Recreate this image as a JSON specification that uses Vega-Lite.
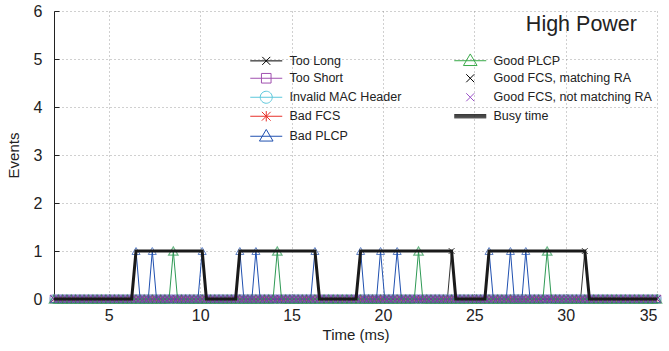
{
"$schema":"https://vega.github.io/schema/vega-lite/v6.json",
"width":603,"height":288,
"autosize":{"type":"none"},
"padding":{"left":54,"top":11,"right":12,"bottom":52},
"title":{"text":"High Power","anchor":"end","frame":"group","orient":"top","offset":-49,"dx":-20,"baseline":"alphabetic","fontSize":21.5,"font":"Liberation Sans","fontWeight":"normal","color":"#222"},
"data":{"values":[
{"t":2,"TL":0,"TS":0,"IM":0,"BF":0,"BP":0,"GP":0,"GM":0,"GN":0,"BT":0},
{"t":2.24,"TL":0,"TS":0,"IM":0,"BF":0,"BP":0,"GP":0,"GM":0,"GN":0,"BT":0},
{"t":2.47,"TL":0,"TS":0,"IM":0,"BF":0,"BP":0,"GP":0,"GM":0,"GN":0,"BT":0},
{"t":2.71,"TL":0,"TS":0,"IM":0,"BF":0,"BP":0,"GP":0,"GM":0,"GN":0,"BT":0},
{"t":2.95,"TL":0,"TS":0,"IM":0,"BF":0,"BP":0,"GP":0,"GM":0,"GN":0,"BT":0},
{"t":3.18,"TL":0,"TS":0,"IM":0,"BF":0,"BP":0,"GP":0,"GM":0,"GN":0,"BT":0},
{"t":3.42,"TL":0,"TS":0,"IM":0,"BF":0,"BP":0,"GP":0,"GM":0,"GN":0,"BT":0},
{"t":3.65,"TL":0,"TS":0,"IM":0,"BF":0,"BP":0,"GP":0,"GM":0,"GN":0,"BT":0},
{"t":3.89,"TL":0,"TS":0,"IM":0,"BF":0,"BP":0,"GP":0,"GM":0,"GN":0,"BT":0},
{"t":4.13,"TL":0,"TS":0,"IM":0,"BF":0,"BP":0,"GP":0,"GM":0,"GN":0,"BT":0},
{"t":4.36,"TL":0,"TS":0,"IM":0,"BF":0,"BP":0,"GP":0,"GM":0,"GN":0,"BT":0},
{"t":4.6,"TL":0,"TS":0,"IM":0,"BF":0,"BP":0,"GP":0,"GM":0,"GN":0,"BT":0},
{"t":4.84,"TL":0,"TS":0,"IM":0,"BF":0,"BP":0,"GP":0,"GM":0,"GN":0,"BT":0},
{"t":5.07,"TL":0,"TS":0,"IM":0,"BF":0,"BP":0,"GP":0,"GM":0,"GN":0,"BT":0},
{"t":5.31,"TL":0,"TS":0,"IM":0,"BF":0,"BP":0,"GP":0,"GM":0,"GN":0,"BT":0},
{"t":5.54,"TL":0,"TS":0,"IM":0,"BF":0,"BP":0,"GP":0,"GM":0,"GN":0,"BT":0},
{"t":5.78,"TL":0,"TS":0,"IM":0,"BF":0,"BP":0,"GP":0,"GM":0,"GN":0,"BT":0},
{"t":6.02,"TL":0,"TS":0,"IM":0,"BF":0,"BP":0,"GP":0,"GM":0,"GN":0,"BT":0},
{"t":6.25,"TL":0,"TS":0,"IM":0,"BF":0,"BP":0,"GP":0,"GM":0,"GN":0,"BT":0},
{"t":6.49,"TL":0,"TS":0,"IM":0,"BF":0,"BP":1,"GP":0,"GM":0,"GN":0,"BT":1},
{"t":6.71,"TL":0,"TS":0,"IM":0,"BF":0,"BP":0,"GP":0,"GM":0,"GN":0,"BT":1},
{"t":6.94,"TL":0,"TS":0,"IM":0,"BF":0,"BP":0,"GP":0,"GM":0,"GN":0,"BT":1},
{"t":7.16,"TL":0,"TS":0,"IM":0,"BF":0,"BP":0,"GP":0,"GM":0,"GN":0,"BT":1},
{"t":7.38,"TL":0,"TS":0,"IM":0,"BF":0,"BP":1,"GP":0,"GM":0,"GN":0,"BT":1},
{"t":7.61,"TL":0,"TS":0,"IM":0,"BF":0,"BP":0,"GP":0,"GM":0,"GN":0,"BT":1},
{"t":7.84,"TL":0,"TS":0,"IM":0,"BF":0,"BP":0,"GP":0,"GM":0,"GN":0,"BT":1},
{"t":8.07,"TL":0,"TS":0,"IM":0,"BF":0,"BP":0,"GP":0,"GM":0,"GN":0,"BT":1},
{"t":8.3,"TL":0,"TS":0,"IM":0,"BF":0,"BP":0,"GP":0,"GM":0,"GN":0,"BT":1},
{"t":8.53,"TL":0,"TS":0,"IM":0,"BF":0,"BP":0,"GP":1,"GM":0,"GN":0,"BT":1},
{"t":8.76,"TL":0,"TS":0,"IM":0,"BF":0,"BP":0,"GP":0,"GM":0,"GN":0,"BT":1},
{"t":8.98,"TL":0,"TS":0,"IM":0,"BF":0,"BP":0,"GP":0,"GM":0,"GN":0,"BT":1},
{"t":9.21,"TL":0,"TS":0,"IM":0,"BF":0,"BP":0,"GP":0,"GM":0,"GN":0,"BT":1},
{"t":9.43,"TL":0,"TS":0,"IM":0,"BF":0,"BP":0,"GP":0,"GM":0,"GN":0,"BT":1},
{"t":9.66,"TL":0,"TS":0,"IM":0,"BF":0,"BP":0,"GP":0,"GM":0,"GN":0,"BT":1},
{"t":9.88,"TL":0,"TS":0,"IM":0,"BF":0,"BP":0,"GP":0,"GM":0,"GN":0,"BT":1},
{"t":10.11,"TL":0,"TS":0,"IM":0,"BF":0,"BP":1,"GP":0,"GM":0,"GN":0,"BT":1},
{"t":10.34,"TL":0,"TS":0,"IM":0,"BF":0,"BP":0,"GP":0,"GM":0,"GN":0,"BT":0},
{"t":10.57,"TL":0,"TS":0,"IM":0,"BF":0,"BP":0,"GP":0,"GM":0,"GN":0,"BT":0},
{"t":10.8,"TL":0,"TS":0,"IM":0,"BF":0,"BP":0,"GP":0,"GM":0,"GN":0,"BT":0},
{"t":11.03,"TL":0,"TS":0,"IM":0,"BF":0,"BP":0,"GP":0,"GM":0,"GN":0,"BT":0},
{"t":11.25,"TL":0,"TS":0,"IM":0,"BF":0,"BP":0,"GP":0,"GM":0,"GN":0,"BT":0},
{"t":11.48,"TL":0,"TS":0,"IM":0,"BF":0,"BP":0,"GP":0,"GM":0,"GN":0,"BT":0},
{"t":11.71,"TL":0,"TS":0,"IM":0,"BF":0,"BP":0,"GP":0,"GM":0,"GN":0,"BT":0},
{"t":11.94,"TL":0,"TS":0,"IM":0,"BF":0,"BP":0,"GP":0,"GM":0,"GN":0,"BT":0},
{"t":12.17,"TL":0,"TS":0,"IM":0,"BF":0,"BP":1,"GP":0,"GM":0,"GN":0,"BT":1},
{"t":12.39,"TL":0,"TS":0,"IM":0,"BF":0,"BP":0,"GP":0,"GM":0,"GN":0,"BT":1},
{"t":12.61,"TL":0,"TS":0,"IM":0,"BF":0,"BP":0,"GP":0,"GM":0,"GN":0,"BT":1},
{"t":12.83,"TL":0,"TS":0,"IM":0,"BF":0,"BP":0,"GP":0,"GM":0,"GN":0,"BT":1},
{"t":13.05,"TL":0,"TS":0,"IM":0,"BF":0,"BP":1,"GP":0,"GM":0,"GN":0,"BT":1},
{"t":13.28,"TL":0,"TS":0,"IM":0,"BF":0,"BP":0,"GP":0,"GM":0,"GN":0,"BT":1},
{"t":13.52,"TL":0,"TS":0,"IM":0,"BF":0,"BP":0,"GP":0,"GM":0,"GN":0,"BT":1},
{"t":13.75,"TL":0,"TS":0,"IM":0,"BF":0,"BP":0,"GP":0,"GM":0,"GN":0,"BT":1},
{"t":13.99,"TL":0,"TS":0,"IM":0,"BF":0,"BP":0,"GP":0,"GM":0,"GN":0,"BT":1},
{"t":14.22,"TL":0,"TS":0,"IM":0,"BF":0,"BP":0,"GP":1,"GM":0,"GN":0,"BT":1},
{"t":14.45,"TL":0,"TS":0,"IM":0,"BF":0,"BP":0,"GP":0,"GM":0,"GN":0,"BT":1},
{"t":14.68,"TL":0,"TS":0,"IM":0,"BF":0,"BP":0,"GP":0,"GM":0,"GN":0,"BT":1},
{"t":14.91,"TL":0,"TS":0,"IM":0,"BF":0,"BP":0,"GP":0,"GM":0,"GN":0,"BT":1},
{"t":15.14,"TL":0,"TS":0,"IM":0,"BF":0,"BP":0,"GP":0,"GM":0,"GN":0,"BT":1},
{"t":15.36,"TL":0,"TS":0,"IM":0,"BF":0,"BP":0,"GP":0,"GM":0,"GN":0,"BT":1},
{"t":15.59,"TL":0,"TS":0,"IM":0,"BF":0,"BP":0,"GP":0,"GM":0,"GN":0,"BT":1},
{"t":15.82,"TL":0,"TS":0,"IM":0,"BF":0,"BP":0,"GP":0,"GM":0,"GN":0,"BT":1},
{"t":16.05,"TL":0,"TS":0,"IM":0,"BF":0,"BP":0,"GP":0,"GM":0,"GN":0,"BT":1},
{"t":16.28,"TL":0,"TS":0,"IM":0,"BF":0,"BP":1,"GP":0,"GM":0,"GN":0,"BT":1},
{"t":16.53,"TL":0,"TS":0,"IM":0,"BF":0,"BP":0,"GP":0,"GM":0,"GN":0,"BT":0},
{"t":16.78,"TL":0,"TS":0,"IM":0,"BF":0,"BP":0,"GP":0,"GM":0,"GN":0,"BT":0},
{"t":17.03,"TL":0,"TS":0,"IM":0,"BF":0,"BP":0,"GP":0,"GM":0,"GN":0,"BT":0},
{"t":17.28,"TL":0,"TS":0,"IM":0,"BF":0,"BP":0,"GP":0,"GM":0,"GN":0,"BT":0},
{"t":17.53,"TL":0,"TS":0,"IM":0,"BF":0,"BP":0,"GP":0,"GM":0,"GN":0,"BT":0},
{"t":17.78,"TL":0,"TS":0,"IM":0,"BF":0,"BP":0,"GP":0,"GM":0,"GN":0,"BT":0},
{"t":18.03,"TL":0,"TS":0,"IM":0,"BF":0,"BP":0,"GP":0,"GM":0,"GN":0,"BT":0},
{"t":18.28,"TL":0,"TS":0,"IM":0,"BF":0,"BP":0,"GP":0,"GM":0,"GN":0,"BT":0},
{"t":18.53,"TL":0,"TS":0,"IM":0,"BF":0,"BP":0,"GP":0,"GM":0,"GN":0,"BT":0},
{"t":18.78,"TL":0,"TS":0,"IM":0,"BF":0,"BP":1,"GP":0,"GM":0,"GN":0,"BT":1},
{"t":19,"TL":0,"TS":0,"IM":0,"BF":0,"BP":0,"GP":0,"GM":0,"GN":0,"BT":1},
{"t":19.22,"TL":0,"TS":0,"IM":0,"BF":0,"BP":0,"GP":0,"GM":0,"GN":0,"BT":1},
{"t":19.43,"TL":0,"TS":0,"IM":0,"BF":0,"BP":0,"GP":0,"GM":0,"GN":0,"BT":1},
{"t":19.65,"TL":0,"TS":0,"IM":0,"BF":0,"BP":0,"GP":0,"GM":0,"GN":0,"BT":1},
{"t":19.87,"TL":0,"TS":0,"IM":0,"BF":0,"BP":1,"GP":0,"GM":0,"GN":0,"BT":1},
{"t":20.1,"TL":0,"TS":0,"IM":0,"BF":0,"BP":0,"GP":0,"GM":0,"GN":0,"BT":1},
{"t":20.33,"TL":0,"TS":0,"IM":0,"BF":0,"BP":0,"GP":0,"GM":0,"GN":0,"BT":1},
{"t":20.55,"TL":0,"TS":0,"IM":0,"BF":0,"BP":0,"GP":0,"GM":0,"GN":0,"BT":1},
{"t":20.78,"TL":0,"TS":0,"IM":0,"BF":0,"BP":1,"GP":0,"GM":0,"GN":0,"BT":1},
{"t":21.01,"TL":0,"TS":0,"IM":0,"BF":0,"BP":0,"GP":0,"GM":0,"GN":0,"BT":1},
{"t":21.25,"TL":0,"TS":0,"IM":0,"BF":0,"BP":0,"GP":0,"GM":0,"GN":0,"BT":1},
{"t":21.48,"TL":0,"TS":0,"IM":0,"BF":0,"BP":0,"GP":0,"GM":0,"GN":0,"BT":1},
{"t":21.72,"TL":0,"TS":0,"IM":0,"BF":0,"BP":0,"GP":0,"GM":0,"GN":0,"BT":1},
{"t":21.95,"TL":0,"TS":0,"IM":0,"BF":0,"BP":0,"GP":1,"GM":0,"GN":0,"BT":1},
{"t":22.18,"TL":0,"TS":0,"IM":0,"BF":0,"BP":0,"GP":0,"GM":0,"GN":0,"BT":1},
{"t":22.4,"TL":0,"TS":0,"IM":0,"BF":0,"BP":0,"GP":0,"GM":0,"GN":0,"BT":1},
{"t":22.63,"TL":0,"TS":0,"IM":0,"BF":0,"BP":0,"GP":0,"GM":0,"GN":0,"BT":1},
{"t":22.86,"TL":0,"TS":0,"IM":0,"BF":0,"BP":0,"GP":0,"GM":0,"GN":0,"BT":1},
{"t":23.08,"TL":0,"TS":0,"IM":0,"BF":0,"BP":0,"GP":0,"GM":0,"GN":0,"BT":1},
{"t":23.31,"TL":0,"TS":0,"IM":0,"BF":0,"BP":0,"GP":0,"GM":0,"GN":0,"BT":1},
{"t":23.53,"TL":0,"TS":0,"IM":0,"BF":0,"BP":0,"GP":0,"GM":0,"GN":0,"BT":1},
{"t":23.76,"TL":1,"TS":0,"IM":0,"BF":0,"BP":0,"GP":0,"GM":0,"GN":0,"BT":1},
{"t":23.99,"TL":0,"TS":0,"IM":0,"BF":0,"BP":0,"GP":0,"GM":0,"GN":0,"BT":0},
{"t":24.22,"TL":0,"TS":0,"IM":0,"BF":0,"BP":0,"GP":0,"GM":0,"GN":0,"BT":0},
{"t":24.44,"TL":0,"TS":0,"IM":0,"BF":0,"BP":0,"GP":0,"GM":0,"GN":0,"BT":0},
{"t":24.67,"TL":0,"TS":0,"IM":0,"BF":0,"BP":0,"GP":0,"GM":0,"GN":0,"BT":0},
{"t":24.9,"TL":0,"TS":0,"IM":0,"BF":0,"BP":0,"GP":0,"GM":0,"GN":0,"BT":0},
{"t":25.13,"TL":0,"TS":0,"IM":0,"BF":0,"BP":0,"GP":0,"GM":0,"GN":0,"BT":0},
{"t":25.35,"TL":0,"TS":0,"IM":0,"BF":0,"BP":0,"GP":0,"GM":0,"GN":0,"BT":0},
{"t":25.58,"TL":0,"TS":0,"IM":0,"BF":0,"BP":0,"GP":0,"GM":0,"GN":0,"BT":0},
{"t":25.81,"TL":0,"TS":0,"IM":0,"BF":0,"BP":1,"GP":0,"GM":0,"GN":0,"BT":1},
{"t":26.04,"TL":0,"TS":0,"IM":0,"BF":0,"BP":0,"GP":0,"GM":0,"GN":0,"BT":1},
{"t":26.28,"TL":0,"TS":0,"IM":0,"BF":0,"BP":0,"GP":0,"GM":0,"GN":0,"BT":1},
{"t":26.51,"TL":0,"TS":0,"IM":0,"BF":0,"BP":0,"GP":0,"GM":0,"GN":0,"BT":1},
{"t":26.75,"TL":0,"TS":0,"IM":0,"BF":0,"BP":0,"GP":0,"GM":0,"GN":0,"BT":1},
{"t":26.98,"TL":0,"TS":0,"IM":0,"BF":0,"BP":1,"GP":0,"GM":0,"GN":0,"BT":1},
{"t":27.19,"TL":0,"TS":0,"IM":0,"BF":0,"BP":0,"GP":0,"GM":0,"GN":0,"BT":1},
{"t":27.4,"TL":0,"TS":0,"IM":0,"BF":0,"BP":0,"GP":0,"GM":0,"GN":0,"BT":1},
{"t":27.61,"TL":0,"TS":0,"IM":0,"BF":0,"BP":0,"GP":0,"GM":0,"GN":0,"BT":1},
{"t":27.82,"TL":0,"TS":0,"IM":0,"BF":0,"BP":1,"GP":0,"GM":0,"GN":0,"BT":1},
{"t":28.05,"TL":0,"TS":0,"IM":0,"BF":0,"BP":0,"GP":0,"GM":0,"GN":0,"BT":1},
{"t":28.29,"TL":0,"TS":0,"IM":0,"BF":0,"BP":0,"GP":0,"GM":0,"GN":0,"BT":1},
{"t":28.52,"TL":0,"TS":0,"IM":0,"BF":0,"BP":0,"GP":0,"GM":0,"GN":0,"BT":1},
{"t":28.76,"TL":0,"TS":0,"IM":0,"BF":0,"BP":0,"GP":0,"GM":0,"GN":0,"BT":1},
{"t":28.99,"TL":0,"TS":0,"IM":0,"BF":0,"BP":0,"GP":1,"GM":0,"GN":0,"BT":1},
{"t":29.22,"TL":0,"TS":0,"IM":0,"BF":0,"BP":0,"GP":0,"GM":0,"GN":0,"BT":1},
{"t":29.45,"TL":0,"TS":0,"IM":0,"BF":0,"BP":0,"GP":0,"GM":0,"GN":0,"BT":1},
{"t":29.68,"TL":0,"TS":0,"IM":0,"BF":0,"BP":0,"GP":0,"GM":0,"GN":0,"BT":1},
{"t":29.91,"TL":0,"TS":0,"IM":0,"BF":0,"BP":0,"GP":0,"GM":0,"GN":0,"BT":1},
{"t":30.13,"TL":0,"TS":0,"IM":0,"BF":0,"BP":0,"GP":0,"GM":0,"GN":0,"BT":1},
{"t":30.36,"TL":0,"TS":0,"IM":0,"BF":0,"BP":0,"GP":0,"GM":0,"GN":0,"BT":1},
{"t":30.59,"TL":0,"TS":0,"IM":0,"BF":0,"BP":0,"GP":0,"GM":0,"GN":0,"BT":1},
{"t":30.82,"TL":0,"TS":0,"IM":0,"BF":0,"BP":0,"GP":0,"GM":0,"GN":0,"BT":1},
{"t":31.05,"TL":1,"TS":0,"IM":0,"BF":0,"BP":0,"GP":0,"GM":0,"GN":0,"BT":1},
{"t":31.3,"TL":0,"TS":0,"IM":0,"BF":0,"BP":0,"GP":0,"GM":0,"GN":0,"BT":0},
{"t":31.54,"TL":0,"TS":0,"IM":0,"BF":0,"BP":0,"GP":0,"GM":0,"GN":0,"BT":0},
{"t":31.79,"TL":0,"TS":0,"IM":0,"BF":0,"BP":0,"GP":0,"GM":0,"GN":0,"BT":0},
{"t":32.04,"TL":0,"TS":0,"IM":0,"BF":0,"BP":0,"GP":0,"GM":0,"GN":0,"BT":0},
{"t":32.28,"TL":0,"TS":0,"IM":0,"BF":0,"BP":0,"GP":0,"GM":0,"GN":0,"BT":0},
{"t":32.53,"TL":0,"TS":0,"IM":0,"BF":0,"BP":0,"GP":0,"GM":0,"GN":0,"BT":0},
{"t":32.78,"TL":0,"TS":0,"IM":0,"BF":0,"BP":0,"GP":0,"GM":0,"GN":0,"BT":0},
{"t":33.03,"TL":0,"TS":0,"IM":0,"BF":0,"BP":0,"GP":0,"GM":0,"GN":0,"BT":0},
{"t":33.27,"TL":0,"TS":0,"IM":0,"BF":0,"BP":0,"GP":0,"GM":0,"GN":0,"BT":0},
{"t":33.52,"TL":0,"TS":0,"IM":0,"BF":0,"BP":0,"GP":0,"GM":0,"GN":0,"BT":0},
{"t":33.77,"TL":0,"TS":0,"IM":0,"BF":0,"BP":0,"GP":0,"GM":0,"GN":0,"BT":0},
{"t":34.01,"TL":0,"TS":0,"IM":0,"BF":0,"BP":0,"GP":0,"GM":0,"GN":0,"BT":0},
{"t":34.26,"TL":0,"TS":0,"IM":0,"BF":0,"BP":0,"GP":0,"GM":0,"GN":0,"BT":0},
{"t":34.51,"TL":0,"TS":0,"IM":0,"BF":0,"BP":0,"GP":0,"GM":0,"GN":0,"BT":0},
{"t":34.75,"TL":0,"TS":0,"IM":0,"BF":0,"BP":0,"GP":0,"GM":0,"GN":0,"BT":0},
{"t":35,"TL":0,"TS":0,"IM":0,"BF":0,"BP":0,"GP":0,"GM":0,"GN":0,"BT":0}
]},
"encoding":{"x":{"field":"t","type":"quantitative","title":"Time (ms)","scale":{"domain":[2,35],"nice":false,"zero":false},"axis":{"values":[5,10,15,20,25,30,35]}}},
"layer":[
{"mark":{"type":"line","color":"#000000","strokeWidth":0.8},"encoding":{"y":{"field":"TL","type":"quantitative","scale":{"domain":[0,6]},"title":"Events"}}},
{"mark":{"type":"point","shape":"M-1,-1L1,1M-1,1L1,-1","size":36,"color":"#000000"},"encoding":{"y":{"field":"TL","type":"quantitative","scale":{"domain":[0,6]},"title":"Events"}}},
{"mark":{"type":"line","color":"#a050b0"},"encoding":{"y":{"field":"TS","type":"quantitative","scale":{"domain":[0,6]},"title":"Events"}}},
{"mark":{"type":"point","shape":"square","size":60,"color":"#a050b0"},"encoding":{"y":{"field":"TS","type":"quantitative","scale":{"domain":[0,6]},"title":"Events"}}},
{"mark":{"type":"line","color":"#5cc8dc"},"encoding":{"y":{"field":"IM","type":"quantitative","scale":{"domain":[0,6]},"title":"Events"}}},
{"mark":{"type":"point","shape":"circle","size":65,"color":"#5cc8dc"},"encoding":{"y":{"field":"IM","type":"quantitative","scale":{"domain":[0,6]},"title":"Events"}}},
{"mark":{"type":"line","color":"#e8302a"},"encoding":{"y":{"field":"BF","type":"quantitative","scale":{"domain":[0,6]},"title":"Events"}}},
{"mark":{"type":"point","shape":"M0,-1V1M-0.9,-0.9L0.9,0.9M-0.9,0.9L0.9,-0.9","size":55,"color":"#e8302a"},"encoding":{"y":{"field":"BF","type":"quantitative","scale":{"domain":[0,6]},"title":"Events"}}},
{"mark":{"type":"line","color":"#2050b0"},"encoding":{"y":{"field":"BP","type":"quantitative","scale":{"domain":[0,6]},"title":"Events"}}},
{"mark":{"type":"point","shape":"triangle-up","size":65,"color":"#2050b0"},"encoding":{"y":{"field":"BP","type":"quantitative","scale":{"domain":[0,6]},"title":"Events"}}},
{"mark":{"type":"line","color":"#2f9a55"},"encoding":{"y":{"field":"GP","type":"quantitative","scale":{"domain":[0,6]},"title":"Events"}}},
{"mark":{"type":"point","shape":"triangle-up","size":90,"color":"#2f9a55","strokeWidth":1.2},"encoding":{"y":{"field":"GP","type":"quantitative","scale":{"domain":[0,6]},"title":"Events"}}},
{"mark":{"type":"point","shape":"M-1,-1L1,1M-1,1L1,-1","size":50,"color":"#000000"},"encoding":{"y":{"field":"GM","type":"quantitative","scale":{"domain":[0,6]},"title":"Events"}}},
{"mark":{"type":"point","shape":"M-1,-1L1,1M-1,1L1,-1","size":55,"color":"#9a50c8","strokeWidth":1.2},"encoding":{"y":{"field":"GN","type":"quantitative","scale":{"domain":[0,6]},"title":"Events"}}},
{"mark":{"type":"line","color":"#1a1a1a","strokeWidth":3},"encoding":{"y":{"field":"BT","type":"quantitative","scale":{"domain":[0,6]},"title":"Events"}}},
{"transform":[{"filter":"datum.t == 2"},{"fold":["TL","TS","IM","BF","BP","GP","GM","GN","BT"],"as":["key","v"]}],
 "mark":{"type":"point","opacity":0,"filled":false,"strokeWidth":1},
 "encoding":{
  "y":{"field":"v","type":"quantitative","scale":{"domain":[0,6]},"title":"Events"},
  "color":{"field":"key","type":"nominal",
    "scale":{"domain":["TL","TS","IM","BF","BP","GP","GM","GN","BT"],"range":["#000000","#a050b0","#5cc8dc","#e8302a","#2050b0","#3aaa4a","#000000","#9a50c8","#1a1a1a"]},
    "legend":{"orient":"none","legendX":206,"legendY":43,"columns":2,"columnPadding":50,"rowPadding":3,"symbolSize":64,"symbolStrokeWidth":1,"symbolOpacity":1,"labelOffset":17,"labelFontSize":12.5,"labelFont":"Liberation Sans","labelColor":"#222","title":null,"padding":0,
      "labelExpr":"datum.value=='TL'?'Too Long':datum.value=='TS'?'Too Short':datum.value=='IM'?'Invalid MAC Header':datum.value=='BF'?'Bad FCS':datum.value=='BP'?'Bad PLCP':datum.value=='GP'?'Good PLCP':datum.value=='GM'?'Good FCS, matching RA':datum.value=='GN'?'Good FCS, not matching RA':'Busy time'"}},
  "shape":{"field":"key","type":"nominal",
    "scale":{"domain":["TL","TS","IM","BF","BP","GP","GM","GN","BT"],"range":[
      "M-4,0H4M-1,-1L1,1M-1,1L1,-1",
      "M-4,0H4M-1.2,-1.2H1.2V1.2H-1.2Z",
      "M-4,0H4M1.5,0A1.5,1.5,0,1,1,-1.5,0A1.5,1.5,0,1,1,1.5,0",
      "M-4,0H4M0,-1.3V1.3M-1.1,-1.1L1.1,1.1M-1.1,1.1L1.1,-1.1",
      "M-4,0H4M0,-1.7L1.7,1.2H-1.7Z",
      "M-4,0H4M0,-1.7L1.7,1.2H-1.7Z",
      "M-1,-1L1,1M-1,1L1,-1",
      "M-1,-1L1,1M-1,1L1,-1",
      "M-4,-0.4H4M-4,-0.13H4M-4,0.13H4M-4,0.4H4"]},
    "legend":{"orient":"none","legendX":206,"legendY":43,"columns":2,"columnPadding":50,"rowPadding":3,"symbolSize":64,"symbolStrokeWidth":1,"symbolOpacity":1,"labelOffset":17,"labelFontSize":12.5,"labelFont":"Liberation Sans","labelColor":"#222","title":null,"padding":0,
      "labelExpr":"datum.value=='TL'?'Too Long':datum.value=='TS'?'Too Short':datum.value=='IM'?'Invalid MAC Header':datum.value=='BF'?'Bad FCS':datum.value=='BP'?'Bad PLCP':datum.value=='GP'?'Good PLCP':datum.value=='GM'?'Good FCS, matching RA':datum.value=='GN'?'Good FCS, not matching RA':'Busy time'"}}
 }}
],
"config":{
 "view":{"stroke":null},
 "point":{"filled":false,"strokeWidth":1},
 "line":{"strokeWidth":1},
 "axis":{"labelFont":"Liberation Sans","titleFont":"Liberation Sans","labelFontSize":16,"titleFontSize":15,"titleFontWeight":"normal","labelColor":"#222","titleColor":"#222","domainColor":"#222","tickColor":"#222","tickSize":-5,"gridColor":"#888","gridDash":[1,3],"gridWidth":0.8,"gridOpacity":1},
 "axisX":{"labelPadding":13,"titlePadding":4},
 "axisY":{"tickCount":6,"labelPadding":17,"titlePadding":12}
}
}
